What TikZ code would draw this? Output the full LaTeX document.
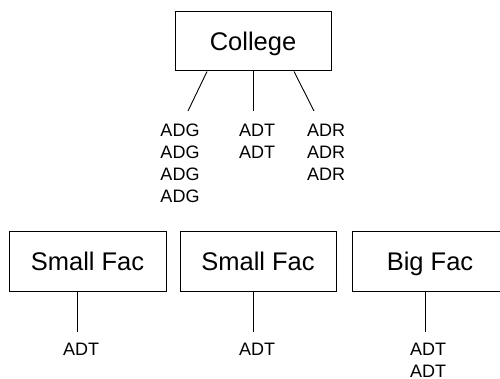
\documentclass[tikz,border=0pt]{standalone}
\usepackage{fontspec}
\setmainfont{Liberation Sans}
\usetikzlibrary{calc}
\begin{document}
\begin{tikzpicture}[x=1pt,y=-1pt,
  box/.style={draw=black,line width=1pt,minimum width=156pt,minimum height=59pt,inner sep=0pt,
    font=\fontsize{25.5}{30}\selectfont,text height=18pt,text depth=0pt},
  lbl/.style={anchor=north,inner sep=0pt,align=center,font=\fontsize{18}{22}\selectfont},
  conn/.style={draw=black,line width=0.9pt}]
\useasboundingbox (0,0) rectangle (500,379);
\node[box] (college) at (253,41.5) {College};
\node[box,minimum width=157pt] (sf1) at (87.5,261.5) {Small Fac};
\node[box] (sf2) at (258,261.5) {Small Fac};
\node[box] (bf) at (430,261.5) {Big Fac};
% top labels
\node[lbl] (adg) at (180,124) {ADG\\ADG\\ADG\\ADG};
\node[lbl] (adt) at (257,124) {ADT\\ADT};
\node[lbl] (adr) at (326,124) {ADR\\ADR\\ADR};
% bottom labels
\node[lbl] (b1) at (81,343) {ADT};
\node[lbl] (b2) at (257,343) {ADT};
\node[lbl] (b3) at (428,343) {ADT\\ADT};
% connector ends
\coordinate (e1) at (188,111);
\coordinate (e2) at (253,111);
\coordinate (e3) at (314,111);
\coordinate (f1) at (77,332);
\coordinate (f2) at (253,332);
\coordinate (f3) at (425,332);
\draw[conn] ([xshift=-46pt]college.south) -- (e1);
\draw[conn] (college.south) -- (e2);
\draw[conn] ([xshift=41pt]college.south) -- (e3);
\draw[conn] ([xshift=-10.5pt]sf1.south) -- (f1);
\draw[conn] ([xshift=-5pt]sf2.south) -- (f2);
\draw[conn] ([xshift=-5pt]bf.south) -- (f3);
\end{tikzpicture}
\end{document}
